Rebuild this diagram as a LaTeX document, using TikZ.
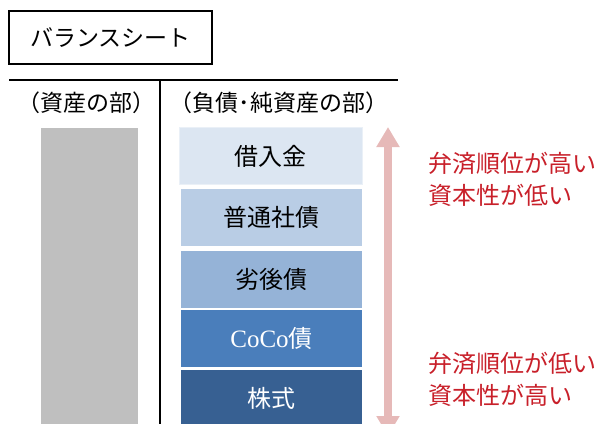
\documentclass[tikz,border=0pt]{standalone}
\usepackage{fontspec}
\setmainfont{Noto Sans CJK JP}
\newfontfamily\latinserif{Liberation Serif}
\usetikzlibrary{arrows.meta}
\definecolor{boxA}{HTML}{DCE6F2}
\definecolor{boxB}{HTML}{B9CDE5}
\definecolor{boxC}{HTML}{95B3D7}
\definecolor{boxD}{HTML}{4A7EBB}
\definecolor{boxE}{HTML}{376092}
\definecolor{assetgrey}{HTML}{BFBFBF}
\definecolor{arrowpink}{HTML}{E6B9B8}
\definecolor{redtext}{HTML}{C8202A}
\tikzset{
  jp/.style={font=\fontsize{23}{26}\selectfont, inner sep=0pt},
  layer/.style={draw=none, minimum width=181pt, minimum height=57pt, inner sep=0pt, font=\fontsize{24}{26}\selectfont},
  note/.style={font=\fontsize{24}{32}\selectfont, text=redtext, align=left, anchor=west, inner sep=0pt},
}
\begin{document}
\begin{tikzpicture}[x=1pt,y=-1pt]
\useasboundingbox (0,0) rectangle (613,423);
% title box
\node[draw=black, line width=1.2pt, minimum width=203pt, minimum height=53pt, inner sep=0pt, font=\fontsize{23}{26}\selectfont] (title) at (110.5,37.5) {バランスシート};
% T-frame
\coordinate (hl) at (9,80);
\coordinate (hr) at (398,80);
\coordinate (vt) at (160,80);
\coordinate (vb) at (160,430);
\draw[line width=2.6pt] (hl) -- (hr);
\draw[line width=2pt] (vt) -- (vb);
% headers
\node[jp] (hasset) at (86,103) {（資産の部）};
\node[jp] (hliab) at (279,103) {（負債･純資産の部）};
% asset block
\node[fill=assetgrey, minimum width=97pt, minimum height=300pt, inner sep=0pt, anchor=north west] (assets) at (41,128) {};
% liability stack
\node[layer, fill=boxA, draw=boxA!60!white, line width=0.8pt, minimum width=183pt] (l1) at (270.5,156) {借入金};
\node[layer, fill=boxB] (l2) at (271.5,217.5) {普通社債};
\node[layer, fill=boxC] (l3) at (271.5,279.5) {劣後債};
\node[layer, fill=boxD, text=white] (l4) at (271.5,338.5) {{\latinserif\fontsize{25}{26}\selectfont CoCo}債};
\node[layer, fill=boxE, text=white] (l5) at (271.5,398.5) {株式};
% arrow
\coordinate (atop) at (388,127);
\coordinate (abot) at (388,436);
\draw[arrowpink, line width=8pt, {Triangle[width=22pt,length=20pt]}-{Triangle[width=22pt,length=20pt]}] (atop) -- (abot);
% notes
\node[note] (n1) at (428,179) {弁済順位が高い\\資本性が低い};
\node[note] (n2) at (428,379) {弁済順位が低い\\資本性が高い};
\end{tikzpicture}
\end{document}
